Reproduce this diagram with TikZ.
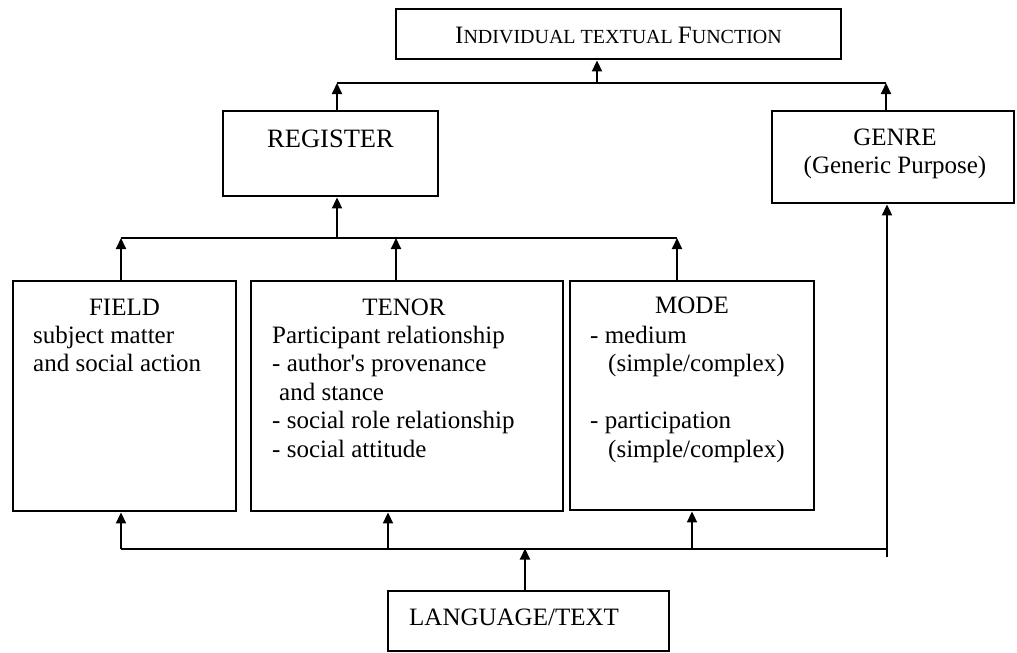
\documentclass[tikz,border=0pt]{standalone}
\usepackage{fontspec}
\setmainfont{Liberation Serif}
\usetikzlibrary{arrows.meta}
\newcommand{\bigsc}[1]{{\fontsize{25}{28.5}\selectfont #1}}
\newcommand{\smsc}[1]{{\fontsize{20}{28.5}\selectfont #1}}
\begin{document}
\begin{tikzpicture}[x=1pt,y=-1pt,
  box/.style={draw, line width=2.9pt, inner sep=0pt},
  txt/.style={inner sep=0pt, font=\fontsize{25}{28.5}\selectfont},
  conn/.style={line width=2pt},
  arr/.style={conn, -{Triangle[width=10pt,length=11pt]}}]
\useasboundingbox (0,0) rectangle (1017,653);
% boxes
\node[box, minimum width=445pt, minimum height=50pt] (top) at (618.5,34) {};
\node[box, minimum width=215pt, minimum height=85pt] (register) at (330.5,153.5) {};
\node[box, minimum width=242pt, minimum height=92pt] (genre) at (893,157) {};
\node[box, minimum width=223pt, minimum height=230pt] (field) at (124.5,396) {};
\node[box, minimum width=312pt, minimum height=230pt] (tenor) at (407,396) {};
\node[box, minimum width=244pt, minimum height=229pt] (mode) at (692,395.5) {};
\node[box, minimum width=281pt, minimum height=60pt] (language) at (528.5,621) {};
% texts
\node[txt, anchor=base] (toptxt) at (618.5,43.3) {\bigsc{I}\smsc{NDIVIDUAL TEXTUAL }\bigsc{F}\smsc{UNCTION}};
\node[txt, anchor=base, font=\fontsize{26.5}{28.5}\selectfont] (regtxt) at (330.5,147) {REGISTER};
\node[txt, anchor=base] (genretxt) at (895,145) {\begin{tabular}[t]{@{}c@{}}GENRE\\(Generic Purpose)\end{tabular}};
\node[txt, anchor=base] (fieldtitle) at (124.5,315) {FIELD};
\node[txt, anchor=base west] (fieldbody) at (33,343) {\begin{tabular}[t]{@{}l@{}}subject matter\\and social action\end{tabular}};
\node[txt, anchor=base] (tenortitle) at (404,315) {TENOR};
\node[txt, anchor=base west] (tenorbody) at (272,343) {\begin{tabular}[t]{@{}l@{}}Participant relationship\\- author\textquotesingle s provenance\\\hspace{7pt}and stance\\- social role relationship\\- social attitude\end{tabular}};
\node[txt, anchor=base] (modetitle) at (692,313) {MODE};
\node[txt, anchor=base west] (modebody) at (590,343) {\begin{tabular}[t]{@{}l@{}}- medium\\\hspace{18pt}(simple/complex)\\ \\- participation\\\hspace{18pt}(simple/complex)\end{tabular}};
\node[txt, anchor=base west] (langtxt) at (409,625) {LANGUAGE/TEXT};
% top connectors
\coordinate (t1) at (337,83);
\coordinate (t2) at (597,83);
\coordinate (t3) at (886,83);
\draw[arr] (register.north -| t1) -- (t1);
\draw[arr] (genre.north -| t3) -- (t3);
\draw[conn] (t1) -- (t3);
\draw[arr] (t2) -- (top.south -| t2);
% middle connectors
\coordinate (m1) at (121,238);
\coordinate (m2) at (337,238);
\coordinate (m3) at (396,238);
\coordinate (m4) at (677,238);
\draw[arr] (field.north -| m1) -- (m1);
\draw[arr] (tenor.north -| m3) -- (m3);
\draw[arr] (mode.north -| m4) -- (m4);
\draw[conn] (m1) -- (m4);
\draw[arr] (m2) -- (register.south -| m2);
% bottom connectors
\coordinate (b1) at (121,548.5);
\coordinate (b2) at (388,548.5);
\coordinate (b3) at (525,548.5);
\coordinate (b4) at (692,548.5);
\coordinate (b5) at (887,548.5);
\coordinate (b6) at (887,557);
\draw[conn] (b1) -- (b5);
\draw[arr] (b1) -- (field.south -| b1);
\draw[arr] (b2) -- (tenor.south -| b2);
\draw[arr] (b4) -- (mode.south -| b4);
\draw[arr] (language.north -| b3) -- (b3);
\draw[arr] (b6) -- (genre.south -| b6);
\end{tikzpicture}
\end{document}
